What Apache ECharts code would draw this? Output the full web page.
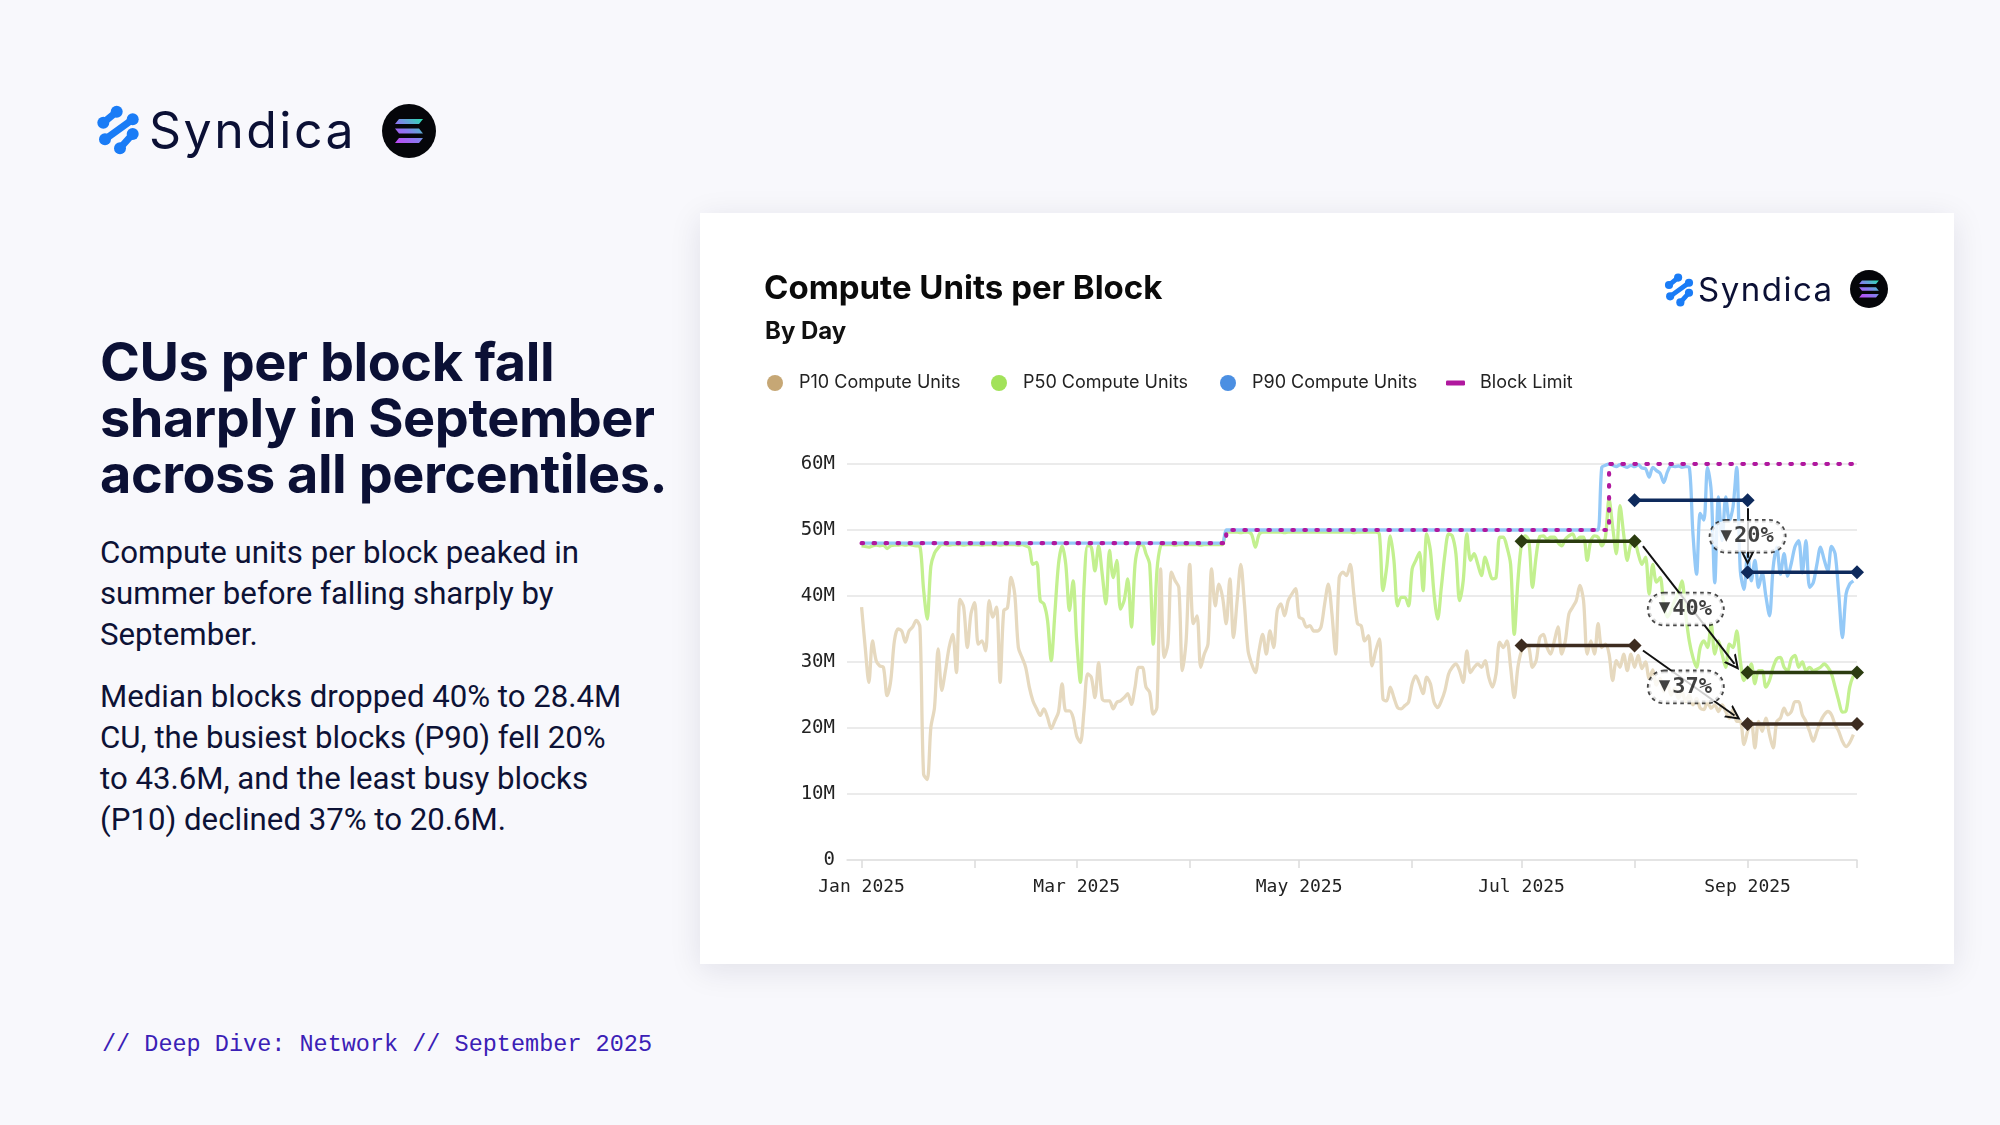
<!DOCTYPE html>
<html>
<head>
<meta charset="utf-8">
<script src="https://cdn.jsdelivr.net/npm/echarts@6/dist/echarts.min.js"></script>
<style>
html,body{margin:0;padding:0;}
body{width:2000px;height:1125px;background:#f8f8fc;position:relative;overflow:hidden;font-family:Inter,sans-serif;}
.abs{position:absolute;}
#brand{left:149px;top:100px;font:400 50px/60px Inter,sans-serif;color:#0b1035;letter-spacing:2.5px;}
#headline{left:100px;top:334px;font:700 54px/56px Inter,sans-serif;letter-spacing:-0.45px;color:#0b1035;white-space:nowrap;}
.body{left:100px;font:400 31.2px/41px Roboto,sans-serif;color:#0d1236;white-space:nowrap;}
#footer{left:102px;top:1031px;font:400 23.5px/28px "Liberation Mono",monospace;color:#3b20b6;white-space:nowrap;}
#card{left:700px;top:213px;width:1254px;height:751px;background:#fff;box-shadow:0 6px 30px rgba(20,20,60,0.10);}
#chart{position:absolute;left:0;top:0;width:1254px;height:751px;}
#cardBrand{left:998px;top:56px;font:400 33px/40px Inter,sans-serif;color:#0b1035;letter-spacing:1.5px;}
</style>
</head>
<body>
<svg class="abs" style="left:96px;top:105px" width="44" height="50" viewBox="0 0 44 50">
  <g stroke="#1a7cf6" stroke-linecap="round" stroke-width="7" fill="#1a7cf6">
    <line x1="20.7" y1="6.7" x2="7.3" y2="17.7"/>
    <line x1="36.7" y1="14.3" x2="9" y2="34.3"/>
    <line x1="36.7" y1="29" x2="24" y2="43.3"/>
  </g>
  <g fill="#1a7cf6">
    <circle cx="20.7" cy="6.7" r="6"/><circle cx="7.3" cy="17.7" r="6"/>
    <circle cx="36.7" cy="14.3" r="6"/><circle cx="9" cy="34.3" r="6"/>
    <circle cx="36.7" cy="29" r="6"/><circle cx="24" cy="43.3" r="6"/>
  </g>
</svg>
<div id="brand" class="abs">Syndica</div>
<svg class="abs" style="left:382px;top:104px" width="54" height="54" viewBox="-27 -27 54 54">
  <defs><linearGradient id="sg1" x1="1" y1="0" x2="0" y2="1">
    <stop offset="0" stop-color="#27e2b0"/><stop offset="0.55" stop-color="#8a78f0"/><stop offset="1" stop-color="#c146f5"/></linearGradient></defs>
  <circle r="27" fill="#05060a"/>
  <path d="M-10,-12 L14,-12 L10,-7 L-14,-7 Z M-14,-2.5 L10,-2.5 L14,2.5 L-10,2.5 Z M-10,7 L14,7 L10,12 L-14,12 Z" fill="url(#sg1)"/>
</svg>

<div id="headline" class="abs">CUs per block fall<br>sharply in September<br>across all percentiles.</div>
<div class="abs body" style="top:532px">Compute units per block peaked in<br>summer before falling sharply by<br>September.</div>
<div class="abs body" style="top:676px">Median blocks dropped 40% to 28.4M<br>CU, the busiest blocks (P90) fell 20%<br>to 43.6M, and the least busy blocks<br>(P10) declined 37% to 20.6M.</div>
<div id="footer" class="abs">// Deep Dive: Network // September 2025</div>

<div id="card" class="abs">
  <div id="chart"></div>
  <svg class="abs" style="left:964px;top:60px" width="30" height="34" viewBox="0 0 44 50">
    <g stroke="#1a7cf6" stroke-linecap="round" stroke-width="7" fill="#1a7cf6">
      <line x1="20.7" y1="6.7" x2="7.3" y2="17.7"/>
      <line x1="36.7" y1="14.3" x2="9" y2="34.3"/>
      <line x1="36.7" y1="29" x2="24" y2="43.3"/>
    </g>
    <g fill="#1a7cf6">
      <circle cx="20.7" cy="6.7" r="6"/><circle cx="7.3" cy="17.7" r="6"/>
      <circle cx="36.7" cy="14.3" r="6"/><circle cx="9" cy="34.3" r="6"/>
      <circle cx="36.7" cy="29" r="6"/><circle cx="24" cy="43.3" r="6"/>
    </g>
  </svg>
  <div id="cardBrand" class="abs">Syndica</div>
  <svg class="abs" style="left:1150px;top:57px" width="38" height="38" viewBox="-27 -27 54 54">
    <defs><linearGradient id="sg2" x1="1" y1="0" x2="0" y2="1">
      <stop offset="0" stop-color="#27e2b0"/><stop offset="0.55" stop-color="#8a78f0"/><stop offset="1" stop-color="#c146f5"/></linearGradient></defs>
    <circle r="27" fill="#05060a"/>
    <path d="M-10,-12 L14,-12 L10,-7 L-14,-7 Z M-14,-2.5 L10,-2.5 L14,2.5 L-10,2.5 Z M-10,7 L14,7 L10,12 L-14,12 Z" fill="url(#sg2)"/>
  </svg>
</div>

<script>
// ---------------- DATA (millions of compute units, daily from 2025-01-01) ----------------
const firstDay = '2025-01-01';

const p10Values = [
  // Jan
  38.3, 32.2, 26.9, 33.2, 30.2, 29.4, 29.2, 24.9, 27.2, 33.2,
  35.0, 34.7, 33.0, 34.7, 35.3, 36.3, 35.3, 13.0, 12.2, 20.1,
  23.1, 32.0, 25.7, 28.7, 32.2, 34.2, 28.4, 39.5, 38.3, 32.2, 37.3,
  // Feb
  39.0, 32.7, 33.2, 31.7, 39.3, 36.8, 38.3, 26.9, 37.8, 38.2,
  42.8, 40.3, 32.2, 30.7, 29.2, 26.2, 24.1, 22.9, 21.9, 22.9,
  21.6, 19.9, 21.1, 22.4, 26.7, 22.6, 22.6, 21.6,
  // Mar
  18.8, 17.8, 22.6, 28.2, 27.7, 24.6, 29.9, 24.4, 24.1, 24.1,
  22.9, 23.9, 24.1, 24.6, 25.2, 23.6, 26.2, 29.2, 29.2, 26.2,
  25.4, 22.1, 23.1, 44.1, 30.7, 32.7, 43.6, 42.3, 41.3, 28.7, 33.2,
  // Apr
  44.8, 35.8, 37.0, 29.2, 31.2, 32.7, 44.1, 38.5, 41.8, 39.8,
  35.8, 42.6, 33.7, 39.3, 44.8, 38.8, 31.7, 29.7, 28.4, 31.7,
  34.2, 31.2, 34.7, 32.2, 37.8, 38.8, 37.0, 39.3, 40.3, 41.1,
  // May
  36.8, 36.5, 35.3, 35.5, 34.7, 34.7, 35.3, 38.8, 41.8, 37.3,
  31.2, 42.8, 43.6, 43.1, 44.8, 40.3, 35.8, 35.5, 33.2, 34.0,
  29.4, 31.7, 33.5, 24.4, 24.1, 26.2, 24.6, 23.1, 22.9, 23.4, 23.9,
  // Jun
  26.7, 27.9, 26.7, 25.2, 27.7, 26.7, 23.9, 23.1, 24.1, 25.7,
  28.2, 29.2, 29.7, 28.7, 26.9, 31.7, 28.4, 29.2, 29.7, 29.2,
  30.2, 27.7, 26.2, 28.2, 33.0, 32.2, 33.2, 29.2, 24.6, 29.2,
  // Jul
  31.7, 32.5, 32.2, 29.2, 30.2, 33.7, 34.2, 32.2, 31.2, 33.2,
  35.3, 31.2, 33.2, 37.3, 38.3, 39.3, 41.6, 39.3, 31.2, 33.2,
  31.2, 35.8, 32.2, 32.7, 31.2, 27.2, 30.2, 29.2, 31.2, 28.7, 31.2,
  // Aug
  29.2, 31.0, 29.0, 30.0, 27.5, 28.8, 26.5, 27.5, 25.5, 26.8,
  25.0, 26.0, 24.5, 25.5, 24.0, 25.0, 23.5, 24.5, 23.0, 22.8,
  24.0, 23.0, 23.5, 22.5, 23.5, 22.5, 21.5, 22.8, 21.0, 21.0, 17.5,
  // Sep
  19.5, 21.0, 17.0, 21.0, 19.5, 21.5, 19.0, 17.0, 21.0, 21.5,
  23.0, 22.0, 22.5, 24.0, 24.0, 22.0, 21.0, 19.5, 18.0, 19.5,
  21.0, 22.0, 22.5, 22.0, 20.5, 19.5, 18.0, 17.2, 17.8, 19.0
];

const p50Values = [
  // Jan
  47.6, 47.5, 47.4, 47.6, 47.7, 47.6, 47.7, 47.2, 47.6, 47.7,
  47.7, 47.8, 47.7, 47.8, 47.7, 47.6, 47.5, 41.0, 36.5, 44.5,
  46.5, 47.3, 47.8, 47.8, 47.7, 47.8, 47.8, 47.8, 47.7, 47.8, 47.8,
  // Feb
  47.8, 47.8, 47.7, 47.8, 47.8, 47.8, 47.8, 47.7, 47.8, 47.8,
  47.8, 47.8, 47.7, 47.8, 47.6, 47.3, 44.8, 45.1, 39.3, 38.8,
  36.3, 30.2, 37.3, 44.8, 47.6, 44.8, 37.8, 42.3,
  // Mar
  33.2, 26.9, 41.3, 47.6, 47.4, 43.8, 47.6, 43.3, 38.8, 46.9,
  42.8, 45.4, 38.0, 39.3, 42.6, 35.3, 44.8, 47.6, 47.8, 46.4,
  44.8, 32.7, 43.8, 47.6, 47.8, 47.8, 47.8, 47.7, 47.8, 47.8, 47.8,
  // Apr
  47.8, 47.8, 47.8, 47.7, 47.8, 47.8, 47.8, 47.8, 47.8, 47.8,
  49.7, 49.7, 49.7, 49.7, 49.6, 49.7, 49.7, 49.3, 47.4, 49.3,
  49.7, 49.7, 49.7, 49.7, 49.7, 49.7, 49.6, 49.7, 49.7, 49.7,
  // May
  49.7, 49.7, 49.7, 49.7, 49.7, 49.7, 49.7, 49.7, 49.7, 49.7,
  49.7, 49.7, 49.7, 49.7, 49.7, 49.6, 49.7, 49.7, 49.7, 49.7,
  49.7, 49.7, 49.4, 40.8, 44.3, 49.1, 45.4, 38.5, 39.8, 39.8, 38.5,
  // Jun
  44.1, 45.4, 46.6, 40.8, 49.4, 46.9, 40.3, 36.5, 41.3, 46.4,
  49.4, 49.1, 46.4, 39.3, 42.3, 49.4, 45.4, 46.4, 44.8, 43.1,
  45.9, 44.1, 42.6, 42.8, 48.9, 48.9, 47.4, 44.8, 34.2, 42.3,
  // Jul
  47.9, 49.1, 48.4, 41.3, 46.0, 49.0, 49.1, 48.6, 48.9, 48.9,
  48.1, 47.6, 48.6, 49.1, 49.4, 48.4, 48.9, 48.9, 45.4, 48.4,
  49.1, 48.9, 47.6, 48.9, 54.7, 50.4, 46.4, 53.7, 49.4, 45.4, 47.9,
  // Aug
  48.1, 46.4, 44.8, 45.9, 40.3, 44.8, 42.1, 42.8, 38.8, 36.8,
  37.8, 39.3, 40.3, 42.3, 37.3, 33.2, 30.7, 29.2, 32.2, 33.2,
  32.2, 35.8, 31.2, 33.2, 31.2, 29.2, 32.7, 32.2, 34.7, 30.2, 27.2,
  // Sep
  28.2, 29.7, 26.7, 28.7, 28.7, 26.2, 27.2, 29.2, 30.5, 30.7,
  29.2, 28.7, 30.5, 31.0, 29.2, 30.0, 28.7, 29.2, 28.7, 28.9,
  29.2, 29.7, 29.2, 28.2, 26.2, 24.1, 22.4, 22.6, 26.2, 27.9
];

const p90Values = [
  // Jan
  48, 48, 48, 48, 48, 48, 48, 48, 48, 48,
  48, 48, 48, 48, 48, 48, 48, 48, 48, 48,
  48, 48, 48, 48, 48, 48, 48, 48, 48, 48, 48,
  // Feb
  48, 48, 48, 48, 48, 48, 48, 48, 48, 48,
  48, 48, 48, 48, 48, 48, 48, 48, 48, 48,
  48, 48, 48, 48, 48, 48, 48, 48,
  // Mar
  48, 48, 48, 48, 48, 48, 48, 48, 48, 48,
  48, 48, 48, 48, 48, 48, 48, 48, 48, 48,
  48, 48, 48, 48, 48, 48, 48, 48, 48, 48, 48,
  // Apr
  48, 48, 48, 48, 48, 48, 48, 48, 48, 48,
  50, 50, 50, 50, 50, 50, 50, 50, 50, 50,
  50, 50, 50, 50, 50, 50, 50, 50, 50, 50,
  // May
  50, 50, 50, 50, 50, 50, 50, 50, 50, 50,
  50, 50, 50, 50, 50, 50, 50, 50, 50, 50,
  50, 50, 50, 50, 50, 50, 50, 50, 50, 50, 50,
  // Jun
  50, 50, 50, 50, 50, 50, 50, 50, 50, 50,
  50, 50, 50, 50, 50, 50, 50, 50, 50, 50,
  50, 50, 50, 50, 50, 50, 50, 50, 50, 50,
  // Jul
  50, 50, 50, 50, 50, 50, 50, 50, 50, 50,
  50, 50, 50, 50, 50, 50, 50, 50, 50, 50,
  50, 50, 59.5, 59.8, 60.0, 59.8, 59.6, 59.9, 59.7, 59.5, 59.8,
  // Aug
  59.6, 59.9, 59.4, 59.3, 58.0, 59.5, 59.0, 58.6, 57.2, 58.8,
  59.7, 59.6, 59.7, 59.5, 59.6, 59.5, 49.5, 43.3, 52.5, 51.5,
  59.5, 56.0, 42.0, 55.0, 48.4, 55.0, 51.4, 53.5, 59.5, 43.8, 41.0,
  // Sep
  46.4, 42.3, 45.4, 41.3, 43.5, 40.0, 37.0, 44.3, 47.4, 43.3,
  46.4, 43.0, 45.0, 47.5, 48.4, 43.5, 48.4, 41.3, 42.0, 44.8,
  47.4, 45.5, 43.8, 47.5, 46.4, 40.3, 33.7, 40.3, 41.8, 42.3
];

// Block limit changes (step line)
const limitDates  = ['2025-01-01', '2025-04-11', '2025-07-25', '2025-09-30'];
const limitValues = [48, 50, 60, 60];

// Period averages and drops
const aggKeys        = ['P90', 'P50', 'P10'];
const aggBeforeFrom  = ['2025-08-01', '2025-07-01', '2025-07-01'];
const aggBeforeTo    = ['2025-09-01', '2025-08-01', '2025-08-01'];
const aggBeforeValue = [54.5, 48.3, 32.5];
const aggAfterFrom   = ['2025-09-01', '2025-09-01', '2025-09-01'];
const aggAfterTo     = ['2025-10-01', '2025-10-01', '2025-10-01'];
const aggAfterValue  = [43.6, 28.4, 20.6];
const dropLabels     = ['20%', '40%', '37%'];

const yTicks = [0, 10, 20, 30, 40, 50, 60];
const seriesNames = ['P10 Compute Units', 'P50 Compute Units', 'P90 Compute Units', 'Block Limit'];

// ---------------- CHART ----------------
const DAY = 86400000;
function ts(s) { const p = s.split('-').map(Number); return new Date(p[0], p[1] - 1, p[2]).getTime(); }
const t0 = ts(firstDay);
const dayTs = p10Values.map((_, i) => { const d = new Date(t0); d.setDate(d.getDate() + i); return d.getTime(); });
const toPairs = arr => arr.map((v, i) => [dayTs[i], v]);
const MONTHS = ['Jan','Feb','Mar','Apr','May','Jun','Jul','Aug','Sep','Oct','Nov','Dec'];

const lineColors   = ['#e6d9bf', '#c3f08f', '#94c9f7'];
const legendColors = ['#c6a775', '#a2e25a', '#4b8fe2'];
const limitColor = '#b0189e';
const aggColors = { P90: '#0e2a5c', P50: '#2b3c10', P10: '#3d2c20' };

const series = [];
[p10Values, p50Values, p90Values].forEach((arr, k) => {
  series.push({
    name: seriesNames[k], type: 'line', data: toPairs(arr), symbol: 'none', smooth: 0.3,
    lineStyle: { color: lineColors[k], width: 3.3 }, itemStyle: { color: legendColors[k] },
    z: 2 + k * 0.1, silent: true
  });
});
series.push({
  name: seriesNames[3], type: 'line', step: 'end', symbol: 'none',
  data: limitDates.map((d, i) => [ts(d), limitValues[i]]),
  lineStyle: { color: limitColor, width: 4.2, type: [1.5, 10.5], cap: 'round' },
  itemStyle: { color: limitColor }, z: 3, silent: true
});

const arrowData = [];
const labelData = [];
aggKeys.forEach((key, i) => {
  const c = aggColors[key];
  [[aggBeforeFrom[i], aggBeforeTo[i], aggBeforeValue[i]], [aggAfterFrom[i], aggAfterTo[i], aggAfterValue[i]]].forEach(seg => {
    series.push({
      type: 'line', symbol: 'diamond', symbolSize: 14, silent: true, z: 5,
      data: [[ts(seg[0]), seg[2]], [ts(seg[1]), seg[2]]],
      lineStyle: { color: c, width: 3.5 }, itemStyle: { color: c }
    });
  });
  const vertical = aggBeforeTo[i] === aggAfterFrom[i];
  const sx = ts(aggBeforeTo[i]) + (vertical ? 0 : 2.3 * DAY);
  const sy = aggBeforeValue[i] - (vertical ? 1.2 : 0.75);
  const ex = ts(aggAfterFrom[i]) - (vertical ? 0 : 3.6 * DAY);
  const ey = aggAfterValue[i] + (vertical ? 2.2 : 1.3);
  arrowData.push({ coords: [[sx, sy], [ex, ey]] });
  const mx = (sx + ex) / 2 - (vertical ? 0 : 0.8 * DAY);
  const my = vertical ? (aggBeforeValue[i] + aggAfterValue[i]) / 2 : (sy + ey) / 2 - 0.6;
  labelData.push({ value: [mx, my], pct: dropLabels[i] });
});

series.push({
  type: 'lines', coordinateSystem: 'cartesian2d', z: 6, silent: true,
  symbol: ['none', 'path://M0,10 L5,0 L10,10 L8.5,10 L5,3 L1.5,10 Z'], symbolSize: 15,
  lineStyle: { color: '#111', width: 2, opacity: 1, curveness: 0 },
  data: arrowData
});
series.push({
  type: 'scatter', z: 8, silent: true, symbol: 'circle', symbolSize: 1,
  itemStyle: { color: 'rgba(0,0,0,0)' },
  data: labelData,
  label: {
    show: true, position: 'inside',
    formatter: p => '{t|▼}{p|' + p.data.pct + '}',
    backgroundColor: '#fff', borderColor: '#1a1a1a', borderWidth: 1.8, borderType: 'dotted',
    borderRadius: 17, padding: [5, 11, 4, 10],
    rich: {
      t: { fontFamily: 'DejaVu Sans', fontSize: 15, color: '#111', padding: [0, 2, 2, 0] },
      p: { fontFamily: 'DejaVu Sans Mono', fontSize: 22, fontWeight: 'bold', color: '#111' }
    }
  }
});

function legendFor(name, color, left, icon, w, h, pad) {
  return {
    data: [{ name: name, itemStyle: { color: color } }], left: left, top: 156,
    icon: icon, itemWidth: w, itemHeight: h, selectedMode: false,
    textStyle: { fontFamily: 'Inter', fontSize: 18, color: '#222', padding: [0, 0, 0, pad] }
  };
}

const option = {
  animation: false,
  backgroundColor: 'transparent',
  title: [
    { text: 'Compute Units per Block', left: 59, top: 55,
      textStyle: { fontFamily: 'Inter', fontWeight: 700, fontSize: 33, color: '#0a0a0a' } },
    { text: 'By Day', left: 60, top: 102,
      textStyle: { fontFamily: 'Inter', fontWeight: 700, fontSize: 24, color: '#111' } }
  ],
  legend: [
    legendFor(seriesNames[0], legendColors[0], 62, 'circle', 16, 16, 11),
    legendFor(seriesNames[1], legendColors[1], 286, 'circle', 16, 16, 11),
    legendFor(seriesNames[2], legendColors[2], 515, 'circle', 16, 16, 11),
    legendFor(seriesNames[3], limitColor, 741, 'roundRect', 19, 5, 10)
  ],
  grid: { left: 147, right: 97, top: 251, bottom: 104, containLabel: false },
  xAxis: {
    type: 'time', min: ts('2024-12-28'), max: ts('2025-10-01'), splitNumber: 10,
    maxInterval: 31 * DAY,
    axisLine: { show: true, lineStyle: { color: '#e2e2e2', width: 1.5 } },
    axisTick: { show: true, length: 8, lineStyle: { color: '#dcdcdc', width: 1.5 } },
    splitLine: { show: false },
    axisLabel: {
      fontFamily: 'DejaVu Sans Mono', fontSize: 18, color: '#222', margin: 18,
      showMinLabel: false, showMaxLabel: false, hideOverlap: false,
      formatter: v => { const d = new Date(v); if (d.getDate() !== 1) return ''; const m = d.getMonth();
        return (m % 2 === 0 && m < 9) ? MONTHS[m] + ' ' + d.getFullYear() : ''; }
    }
  },
  yAxis: {
    type: 'value', min: yTicks[0], max: yTicks[yTicks.length - 1], interval: 10,
    axisLine: { show: false }, axisTick: { show: false },
    splitLine: { lineStyle: { color: '#e4e4e4', width: 1.5 } },
    axisLabel: { fontFamily: 'DejaVu Sans Mono', fontSize: 19, color: '#222', margin: 12,
      formatter: v => v === 0 ? '0' : v + 'M' }
  },
  series: series
};
const chart = echarts.init(document.getElementById('chart'));
chart.setOption(option);
</script>
</body>
</html>
